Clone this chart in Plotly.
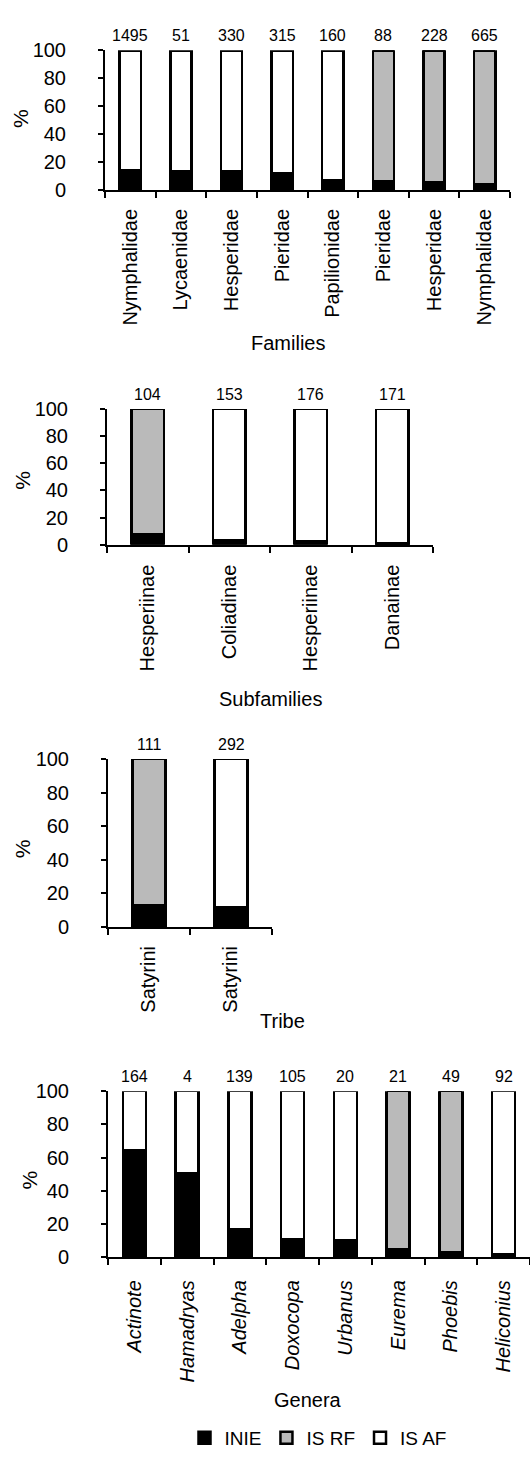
import plotly.graph_objects as go

# ---- data -------------------------------------------------------------
families = ["Nymphalidae", "Lycaenidae", "Hesperidae", "Pieridae",
            "Papilionidae", "Pieridae", "Hesperidae", "Nymphalidae"]
families_n = [1495, 51, 330, 315, 160, 88, 228, 665]
families_inie = [14.1, 13.0, 13.0, 11.8, 7.0, 5.9, 5.2, 4.0]
families_rf = [0, 0, 0, 0, 0, 94.1, 94.8, 96.0]
families_af = [85.9, 87.0, 87.0, 88.2, 93.0, 0, 0, 0]

subfamilies = ["Hesperiinae", "Coliadinae", "Hesperiinae", "Danainae"]
subfamilies_n = [104, 153, 176, 171]
subfamilies_inie = [7.5, 3.4, 2.2, 1.0]
subfamilies_rf = [92.5, 0, 0, 0]
subfamilies_af = [0, 96.6, 97.8, 99.0]

tribes = ["Satyrini", "Satyrini"]
tribes_n = [111, 292]
tribes_inie = [12.9, 11.5]
tribes_rf = [87.1, 0]
tribes_af = [0, 88.5]

genera = ["Actinote", "Hamadryas", "Adelpha", "Doxocopa",
          "Urbanus", "Eurema", "Phoebis", "Heliconius"]
genera_n = [164, 4, 139, 105, 20, 21, 49, 92]
genera_inie = [64.3, 50.7, 16.6, 10.7, 10.5, 5.0, 2.8, 1.8]
genera_rf = [0, 0, 0, 0, 0, 95.0, 97.2, 0]
genera_af = [35.7, 49.3, 83.4, 89.3, 89.5, 0, 0, 98.2]

series_names = ["INIE", "IS RF", "IS AF"]
y_ticks = [0, 20, 40, 60, 80, 100]

# ---- layout helpers ---------------------------------------------------
W, H = 530, 1457
FONT = "Liberation Sans, Arial, Helvetica, sans-serif"
fills = {"INIE": "#000000", "IS RF": "#bababa", "IS AF": "#ffffff"}


def xdom(x0, x1):
    return [x0 / W, min(x1 / W, 1.0)]


def ydom(top, bottom):
    return [1 - bottom / H, 1 - top / H]


panels = [
    dict(labels=families, n=families_n, inie=families_inie, rf=families_rf,
         af=families_af, x=(105, 510), y=(40, 182), width=0.42,
         title="Families", title_xy=(288, 338), pct_xy=(20, 110),
         italic=False, standoff=9),
    dict(labels=subfamilies, n=subfamilies_n, inie=subfamilies_inie,
         rf=subfamilies_rf, af=subfamilies_af, x=(107, 433), y=(405, 543),
         width=0.40, title="Subfamilies", title_xy=(270, 700),
         pct_xy=(23, 478), italic=False, standoff=10),
    dict(labels=tribes, n=tribes_n, inie=tribes_inie, rf=tribes_rf,
         af=tribes_af, x=(108, 272), y=(761, 932), width=0.40,
         title="Tribe", title_xy=(282, 1028), pct_xy=(22, 853),
         italic=False, standoff=9),
    dict(labels=genera, n=genera_n, inie=genera_inie, rf=genera_rf,
         af=genera_af, x=(108, 530), y=(1099, 1268), width=0.44,
         title="Genera", title_xy=(308, 1413), pct_xy=(30, 1190),
         italic=True, standoff=13),
]

fig = go.Figure()
annotations = []
layout_axes = {}

for k, p in enumerate(panels, start=1):
    xa = "x" if k == 1 else f"x{k}"
    ya = "y" if k == 1 else f"y{k}"
    idx = list(range(len(p["labels"])))
    for name, vals in zip(series_names, (p["inie"], p["rf"], p["af"])):
        fig.add_trace(go.Bar(
            x=idx, y=vals, name=name, xaxis=xa, yaxis=ya,
            width=p["width"], legendgroup=name, showlegend=(k == 1),
            marker=dict(color=fills[name], line=dict(color="black", width=2.5)),
            cliponaxis=False, hoverinfo="skip",
        ))
    # sample sizes above each bar
    for i, n in zip(idx, p["n"]):
        annotations.append(dict(
            x=i, y=100, xref=xa, yref=ya, text=str(n), showarrow=False,
            yanchor="bottom", yshift=4, font=dict(size=16, color="black")))
    # axis title below the category labels
    tx, ty = p["title_xy"]
    annotations.append(dict(
        x=tx / W, y=1 - ty / H, xref="paper", yref="paper", text=p["title"],
        showarrow=False, xanchor="center", yanchor="middle",
        font=dict(size=20, color="black")))
    # y-axis title
    px_, py_ = p["pct_xy"]
    annotations.append(dict(
        x=px_ / W, y=1 - py_ / H, xref="paper", yref="paper", text="%",
        showarrow=False, textangle=-90, xanchor="center", yanchor="middle",
        font=dict(size=21, color="black")))

    ticktext = [f"<i>{t}</i>" if p["italic"] else t for t in p["labels"]]
    key_x = "xaxis" if k == 1 else f"xaxis{k}"
    key_y = "yaxis" if k == 1 else f"yaxis{k}"
    layout_axes[key_x] = dict(
        domain=xdom(*p["x"]), anchor=ya, range=[-0.5, len(idx) - 0.5],
        tickmode="array", tickvals=idx, ticktext=ticktext, tickangle=-90,
        ticks="", showline=True, linecolor="black", linewidth=2,
        showgrid=False, zeroline=False, ticklabelstandoff=p["standoff"],
        tickfont=dict(size=20, color="black"),
        minor=dict(tickmode="linear", tick0=-0.5, dtick=1, ticks="outside",
                   ticklen=6, tickwidth=2, tickcolor="black", showgrid=False),
        fixedrange=True,
    )
    layout_axes[key_y] = dict(
        domain=ydom(*p["y"]), anchor=xa, range=[0, 100],
        tickmode="array", tickvals=y_ticks, ticks="outside", ticklen=5,
        tickwidth=2, tickcolor="black", showline=True, linecolor="black",
        linewidth=2, showgrid=False, zeroline=False, ticklabelstandoff=28,
        tickfont=dict(size=20, color="black"), fixedrange=True,
    )

fig.update_layout(
    width=W, height=H, barmode="stack",
    margin=dict(l=0, r=0, t=0, b=0),
    paper_bgcolor="white", plot_bgcolor="white",
    font=dict(family=FONT, color="black"),
    annotations=annotations,
    legend=dict(orientation="h", x=318 / W, y=1 - 1433 / H,
                xanchor="center", yanchor="top", itemwidth=30,
                font=dict(size=19, color="black"), traceorder="normal",
                tracegroupgap=0),
    **layout_axes,
)

fig.write_html("out.html")
